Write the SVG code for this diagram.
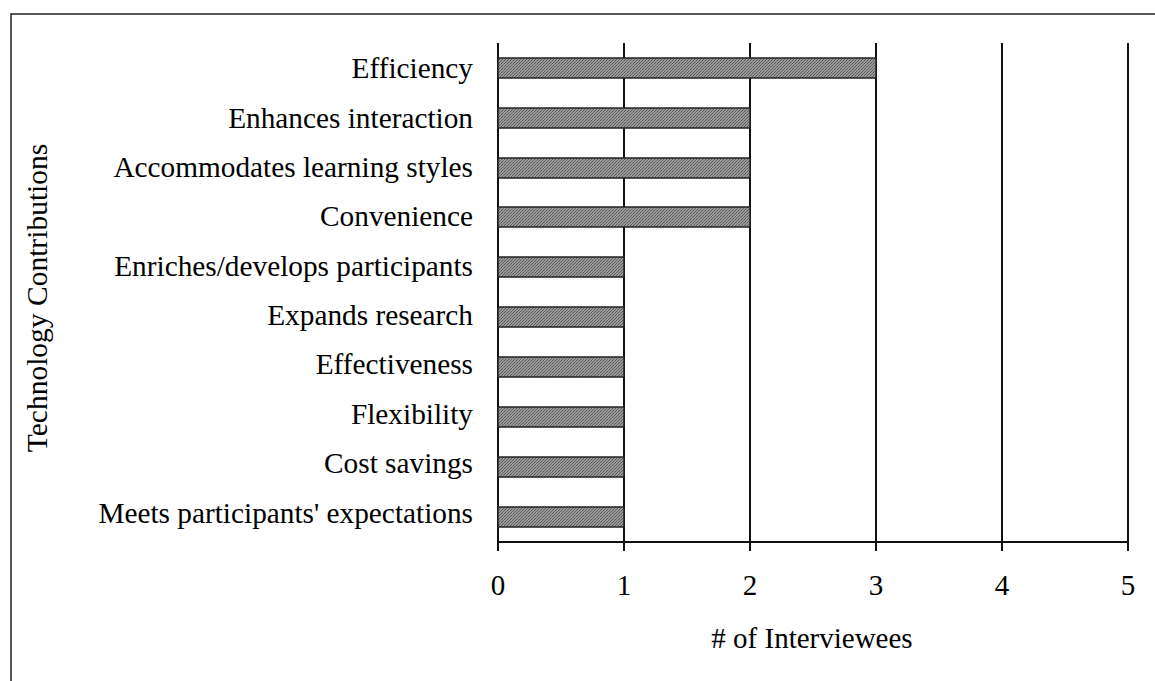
<svg xmlns="http://www.w3.org/2000/svg" width="1155" height="681" viewBox="0 0 1155 681">
<style>
text{font-family:"Liberation Serif","Times New Roman",serif;fill:#000}
.lab{font-size:29.3px;text-anchor:end}
.num{font-size:29px;text-anchor:middle}
.grid{stroke:#111;stroke-width:2}
.bar{fill:url(#hatch);stroke:#222;stroke-width:1.5}
</style>
<defs>
<pattern id="hatch" width="3" height="3" patternUnits="userSpaceOnUse">
<rect width="3" height="3" fill="#9a9a9a"/>
<rect width="1" height="1" fill="#555"/>
<rect x="2" y="1" width="1" height="1" fill="#666"/>
<rect x="1" y="2" width="1" height="1" fill="#5a5a5a"/>
</pattern>
</defs>
<rect width="1155" height="681" fill="#fff"/>
<g id="frame" stroke="#222" stroke-width="1.5" fill="none">
<path d="M11 681V14H1155"/>
</g>
<g id="gridlines">
<line class="grid" x1="498" y1="43" x2="498" y2="551"/>
<line class="grid" x1="624" y1="43" x2="624" y2="551"/>
<line class="grid" x1="750" y1="43" x2="750" y2="551"/>
<line class="grid" x1="876" y1="43" x2="876" y2="551"/>
<line class="grid" x1="1002" y1="43" x2="1002" y2="551"/>
<line class="grid" x1="1128" y1="43" x2="1128" y2="551"/>
<line class="grid" x1="498" y1="542" x2="1128" y2="542"/>
</g>
<g id="bars">
<rect class="bar" x="498" y="58" width="378" height="20"/>
<rect class="bar" x="498" y="108" width="252" height="20"/>
<rect class="bar" x="498" y="158" width="252" height="20"/>
<rect class="bar" x="498" y="207" width="252" height="20"/>
<rect class="bar" x="498" y="257" width="126" height="20"/>
<rect class="bar" x="498" y="307" width="126" height="20"/>
<rect class="bar" x="498" y="357" width="126" height="20"/>
<rect class="bar" x="498" y="407" width="126" height="20"/>
<rect class="bar" x="498" y="457" width="126" height="20"/>
<rect class="bar" x="498" y="507" width="126" height="20"/>
</g>
<g id="category-labels">
<text class="lab" x="473" y="78">Efficiency</text>
<text class="lab" x="473" y="128">Enhances interaction</text>
<text class="lab" x="473" y="177">Accommodates learning styles</text>
<text class="lab" x="473" y="226">Convenience</text>
<text class="lab" x="473" y="276">Enriches/develops participants</text>
<text class="lab" x="473" y="325">Expands research</text>
<text class="lab" x="473" y="374">Effectiveness</text>
<text class="lab" x="473" y="424">Flexibility</text>
<text class="lab" x="473" y="473">Cost savings</text>
<text class="lab" x="473" y="523">Meets participants' expectations</text>
</g>
<g id="axis-numbers">
<text class="num" x="498" y="595">0</text>
<text class="num" x="624" y="595">1</text>
<text class="num" x="750" y="595">2</text>
<text class="num" x="876" y="595">3</text>
<text class="num" x="1002" y="595">4</text>
<text class="num" x="1128" y="595">5</text>
</g>
<g id="axis-titles">
<text x="812" y="648" font-size="29" text-anchor="middle"># of Interviewees</text>
<text transform="translate(47 298) rotate(-90)" font-size="29.5" text-anchor="middle">Technology Contributions</text>
</g>
</svg>
